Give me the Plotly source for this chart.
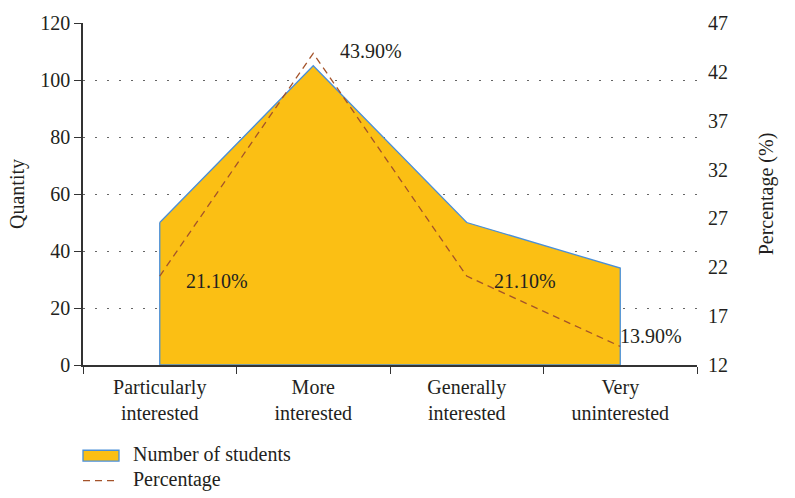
import plotly.graph_objects as go

categories = ["Particularly<br>interested", "More<br>interested", "Generally<br>interested", "Very<br>uninterested"]
students = [50, 105, 50, 34]
percentage = [21.1, 43.9, 21.1, 13.9]
pct_labels = ["21.10%", "43.90%", "21.10%", "13.90%"]
left_ticks = [0, 20, 40, 60, 80, 100, 120]
right_ticks = [12, 17, 22, 27, 32, 37, 42, 47]

FONT = "Liberation Serif"
FS = 20
TXT = "#231F20"
FILL = "#FBBF14"
BLUE = "#4A8FD8"
BROWN = "#A4532A"

fig = go.Figure()
# closed area polygon built from the data (down to zero at both ends)
fig.add_trace(go.Scatter(
    x=categories + [categories[-1], categories[0], categories[0]],
    y=students + [0, 0, students[0]],
    fill="toself", fillcolor=FILL,
    line=dict(color=BLUE, width=1.3),
    mode="lines", name="Number of students", showlegend=False,
))
fig.add_trace(go.Scatter(
    x=categories, y=percentage, yaxis="y2",
    mode="lines", line=dict(color=BROWN, width=1.3, dash="7px,5px"),
    name="Percentage", showlegend=False,
))

offsets = [(57, -5), (58, 2), (58, -5), (31, 10)]
for c, p, lab, (dx, dy) in zip(categories, percentage, pct_labels, offsets):
    fig.add_annotation(x=c, y=p, yref="y2", text=lab, showarrow=False,
                       xshift=dx, yshift=dy, font=dict(family=FONT, size=FS, color=TXT))

# legend (drawn manually to match the reference style)
fig.add_shape(type="rect", xref="paper", yref="paper", x0=0.0, x1=36/614,
              y0=-(452-365)/349, y1=-(463-365)/349,
              fillcolor=FILL, line=dict(color=BLUE, width=1.3))
fig.add_shape(type="line", xref="paper", yref="paper", x0=0.0, x1=36/614,
              y0=-(483-365)/349, y1=-(483-365)/349,
              line=dict(color=BROWN, width=1.3, dash="7px,5px"))
fig.add_annotation(xref="paper", yref="paper", x=(131-83)/614, y=-(456-365)/349,
                   text="Number of students", showarrow=False, xanchor="left",
                   yanchor="middle", font=dict(family=FONT, size=FS, color=TXT))
fig.add_annotation(xref="paper", yref="paper", x=(131-83)/614, y=-(482-365)/349,
                   text="Percentage", showarrow=False, xanchor="left",
                   yanchor="middle", font=dict(family=FONT, size=FS, color=TXT))

fig.update_layout(
    width=795, height=498,
    margin=dict(l=83, r=98, t=16, b=133),
    plot_bgcolor="white", paper_bgcolor="white",
    font=dict(family=FONT, size=FS, color=TXT),
    xaxis=dict(type="category", range=[-0.5, 3.5], tickson="boundaries",
               ticks="outside", ticklen=7, tickcolor="#333", tickwidth=1.3,
               showline=True, linecolor="#333", linewidth=1.5, showgrid=False,
               ticklabelstandoff=3,
               tickfont=dict(family=FONT, size=FS, color=TXT)),
    yaxis=dict(range=[0, 120], tickvals=left_ticks, ticks="outside", ticklen=7,
               tickcolor="#333", tickwidth=1.3, showline=True, linecolor="#333",
               linewidth=1.5,
               showgrid=True, gridcolor="#666", griddash="1.5px,10.5px", gridwidth=1.3,
               zeroline=False, title=dict(text="Quantity", standoff=10,
                                          font=dict(family=FONT, size=FS, color=TXT)),
               tickfont=dict(family=FONT, size=FS, color=TXT)),
    yaxis2=dict(range=[12, 47], tickvals=right_ticks, overlaying="y", side="right",
                showgrid=False, showline=False, zeroline=False, ticks="",
                ticklabelstandoff=10,
                title=dict(text="Percentage (%)", standoff=31,
                           font=dict(family=FONT, size=FS, color=TXT)),
                tickfont=dict(family=FONT, size=FS, color=TXT)),
    showlegend=False,
)

fig.write_html("out.html")
